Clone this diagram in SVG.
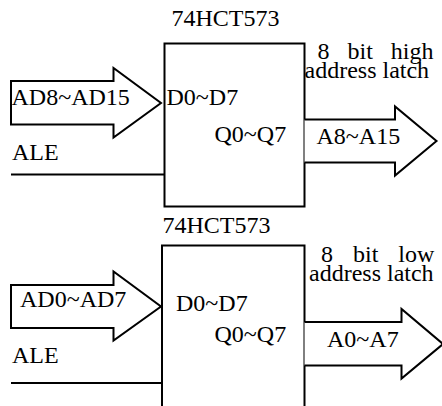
<svg xmlns="http://www.w3.org/2000/svg" width="442" height="406" viewBox="0 0 442 406">
<style>
.ln{fill:none;stroke:#000;stroke-width:2}
.ar{fill:#fff;stroke:#000;stroke-width:2;stroke-linejoin:miter}
.t{font-family:'Liberation Serif','Times New Roman','DejaVu Serif',serif;font-size:24px;fill:#000}
</style>
<rect width="442" height="406" fill="#fff"/>
<g id="latch-high">
<rect class="ln" x="164.5" y="43.5" width="140" height="163"/>
<text class="t" x="171.5" y="26">74HCT573</text>
<text class="t" x="166.5" y="105">D0~D7</text>
<text class="t" x="214.5" y="141.5">Q0~Q7</text>
</g>
<g id="latch-low">
<path class="ln" d="M162 406 V245.5 H304.5 V406"/>
<text class="t" x="162.5" y="233">74HCT573</text>
<text class="t" x="176" y="310.5">D0~D7</text>
<text class="t" x="214.5" y="341.5">Q0~Q7</text>
</g>
<g id="label-high">
<text class="t"><tspan x="317.5" y="59" word-spacing="12">8 bit high</tspan><tspan x="304.5" y="77.5">address latch</tspan></text>
</g>
<g id="label-low">
<text class="t"><tspan x="321" y="262" word-spacing="14">8 bit low</tspan><tspan x="309" y="281">address latch</tspan></text>
</g>
<g id="connectors">
<path class="ar" d="M11 81 H113.5 V68 L161 103 L113.5 137.5 V124.5 H11 Z"/>
<text class="t" x="11.5" y="105">AD8~AD15</text>
<text class="t" x="12" y="159.5">ALE</text>
<path class="ln" d="M11 174.5 H164.5"/>
<path class="ar" d="M304.5 119.5 H395 V106.5 L436.5 141 L395 175.5 V162.5 H304.5"/>
<text class="t" x="316.5" y="143.5">A8~A15</text>
<path class="ar" d="M11 285 H113.5 V271.5 L161 306.5 L113.5 340.5 V328 H11 Z"/>
<text class="t" x="20" y="307">AD0~AD7</text>
<text class="t" x="12" y="362.5">ALE</text>
<path class="ln" d="M11 383 H162"/>
<path class="ar" d="M304.5 322 H401.5 V309 L443 344 L401.5 378.5 V365.5 H304.5"/>
<text class="t" x="327" y="346.5">A0~A7</text>
</g>
</svg>
